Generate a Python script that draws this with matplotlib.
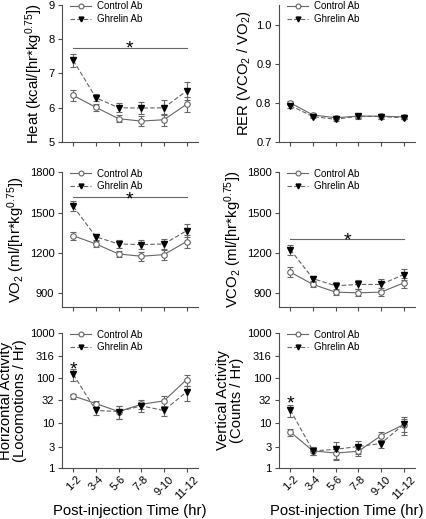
import numpy as np
import matplotlib
matplotlib.use('Agg')
import matplotlib.pyplot as plt
from matplotlib.lines import Line2D

plt.rcParams['font.family'] = ['Liberation Sans', 'DejaVu Sans']
plt.rcParams['mathtext.fontset'] = 'custom'
plt.rcParams['mathtext.rm'] = 'Liberation Sans'
plt.rcParams['mathtext.it'] = 'Liberation Sans:italic'

times = ['1-2', '3-4', '5-6', '7-8', '9-10', '11-12']

heat_ctrl = [6.36, 6.01, 5.68, 5.61, 5.65, 6.10]
heat_ctrl_err = [0.15, 0.10, 0.10, 0.15, 0.18, 0.22]
heat_ghr = [7.38, 6.29, 6.00, 5.99, 6.00, 6.49]
heat_ghr_err = [0.20, 0.10, 0.13, 0.18, 0.22, 0.25]

rer_ctrl = [0.800, 0.769, 0.762, 0.766, 0.766, 0.764]
rer_ctrl_err = [0.005, 0.004, 0.004, 0.005, 0.006, 0.004]
rer_ghr = [0.793, 0.765, 0.758, 0.766, 0.765, 0.762]
rer_ghr_err = [0.005, 0.004, 0.004, 0.006, 0.006, 0.004]

vo2_ctrl = [1328, 1267, 1193, 1176, 1188, 1285]
vo2_ctrl_err = [30, 20, 22, 32, 37, 45]
vo2_ghr = [1545, 1320, 1267, 1262, 1267, 1365]
vo2_ghr_err = [37, 22, 30, 35, 40, 50]

vco2_ctrl = [1058, 967, 910, 905, 910, 978]
vco2_ctrl_err = [35, 20, 22, 25, 30, 35]
vco2_ghr = [1225, 1010, 957, 967, 967, 1040]
vco2_ghr_err = [37, 20, 28, 35, 38, 38]

hor_ctrl = [40, 27, 18, 26, 31, 92]
hor_ctrl_err = [5, 4, 6, 6, 8, 25]
hor_ghr = [120, 19, 18, 24, 19, 49]
hor_ghr_err = [35, 4, 6, 6, 5, 18]

ver_ctrl = [6.3, 2.4, 2.15, 2.35, 5.2, 9.2]
ver_ctrl_err = [1.2, 0.5, 0.6, 0.5, 1.0, 3.0]
ver_ghr = [19.5, 2.4, 2.6, 3.0, 3.5, 9.3]
ver_ghr_err = [6.0, 0.5, 1.1, 1.0, 0.7, 4.0]

size = 10.7
tsize = 8
gray = '0.4'

fig = plt.figure(figsize=(4.26, 5.19), dpi=100)

L1, L2, W = 0.1455, 0.655, 0.319
rows = [(0.7264, 0.264), (0.4085, 0.260), (0.0983, 0.260)]


def panel(pos, ctrl, ctrl_err, ghr, ghr_err, ylabel, ylim, yticks, log=False):
    ax = fig.add_axes(pos)
    x = np.arange(1, 7)
    ax.errorbar(x, ctrl, yerr=ctrl_err, fmt='none', ecolor=gray, capsize=2,
                elinewidth=0.8, capthick=0.8, zorder=2)
    ax.errorbar(x, ghr, yerr=ghr_err, fmt='none', ecolor=gray, capsize=2,
                elinewidth=0.8, capthick=0.8, zorder=2)
    ax.plot(x, ctrl, color=gray, lw=0.8, ls='-', marker='o', ms=4,
            mfc='white', mec=gray, mew=0.8, zorder=3)
    ax.plot(x, ghr, color=gray, lw=0.8, ls=(0, (4, 2)), marker='v', ms=4,
            mfc='black', mec='black', zorder=3)
    if log:
        ax.set_yscale('log')
    ax.set_ylim(*ylim)
    ax.set_yticks(yticks)
    ax.set_yticklabels([str(t) for t in yticks])
    ax.minorticks_off()
    ax.set_xlim(0.5, 6.5)
    ax.set_xticks(x)
    for s in ['top', 'right']:
        ax.spines[s].set_visible(False)
    for s in ['left', 'bottom']:
        ax.spines[s].set_linewidth(0.8)
        ax.spines[s].set_color('0.3')
    ax.tick_params(labelsize=tsize, length=3, width=0.8, color='0.3', pad=2.5)
    ax.tick_params(axis='x', pad=1.5)
    ax.set_ylabel(ylabel, fontsize=size, labelpad=2, linespacing=1.0)
    handles = [Line2D([], [], color=gray, lw=0.8, ls='-', marker='o', ms=3.5,
                      mfc='white', mec=gray, mew=0.8),
               Line2D([], [], color=gray, lw=0.8, ls=(0, (4, 2)), marker='v', ms=3.5,
                      mfc='black', mec='black')]
    ax.legend(handles, ['Control Ab', 'Ghrelin Ab'], loc='upper left', fontsize=7,
              frameon=False, handlelength=2.2, borderaxespad=0.0,
              bbox_to_anchor=(0.03, 1.055), labelspacing=0.3, handletextpad=0.6)
    return ax


def star(ax, x, y):
    # glyph centred on (x, y)
    ax.annotate('*', (x, y), xytext=(0, -8), textcoords='offset points',
                ha='center', va='baseline', fontsize=14)


ax1 = panel([L1, rows[0][0], W, rows[0][1]], heat_ctrl, heat_ctrl_err, heat_ghr, heat_ghr_err,
            'Heat (kcal/[hr*kg$^{0.75}$])', (5, 9), [5, 6, 7, 8, 9])
ax2 = panel([L2, rows[0][0], W, rows[0][1]], rer_ctrl, rer_ctrl_err, rer_ghr, rer_ghr_err,
            'RER (VCO$_2$ / VO$_2$)', (0.7, 1.05), [0.7, 0.8, 0.9, 1.0])
ax2.set_yticklabels(['0.7', '0.8', '0.9', '1.0'])
ax3 = panel([L1, rows[1][0], W, rows[1][1]], vo2_ctrl, vo2_ctrl_err, vo2_ghr, vo2_ghr_err,
            'VO$_2$ (ml/[hr*kg$^{0.75}$])', (800, 1800), [900, 1200, 1500, 1800])
ax4 = panel([L2, rows[1][0], W, rows[1][1]], vco2_ctrl, vco2_ctrl_err, vco2_ghr, vco2_ghr_err,
            'VCO$_2$ (ml/[hr*kg$^{0.75}$])', (800, 1800), [900, 1200, 1500, 1800])
ax5 = panel([L1, rows[2][0], W, rows[2][1]], hor_ctrl, hor_ctrl_err, hor_ghr, hor_ghr_err,
            'Horizontal Activity\n(Locomotions / Hr)', (1, 1000), [1, 3, 10, 32, 100, 316, 1000],
            log=True)
ax6 = panel([L2, rows[2][0], W, rows[2][1]], ver_ctrl, ver_ctrl_err, ver_ghr, ver_ghr_err,
            'Vertical Activity\n(Counts / Hr)', (1, 1000), [1, 3, 10, 32, 100, 316, 1000],
            log=True)

for ax in [ax1, ax2, ax3, ax4]:
    ax.set_xticklabels([])
for ax in [ax5, ax6]:
    ax.set_xticklabels(times, rotation=45, ha='center', fontsize=tsize)
    ax.set_xlabel('Post-injection Time (hr)', fontsize=size, labelpad=2)

# significance marks
for ax, yline, ystar in [(ax1, 7.73, 7.92), (ax3, 1613, 1645), (ax4, 1307, 1340)]:
    ax.plot([1, 6], [yline, yline], color=gray, lw=0.8)
    star(ax, 3.5, ystar)
star(ax5, 1, 215)
star(ax6, 1, 38)

plt.savefig('out.png', dpi=100)
